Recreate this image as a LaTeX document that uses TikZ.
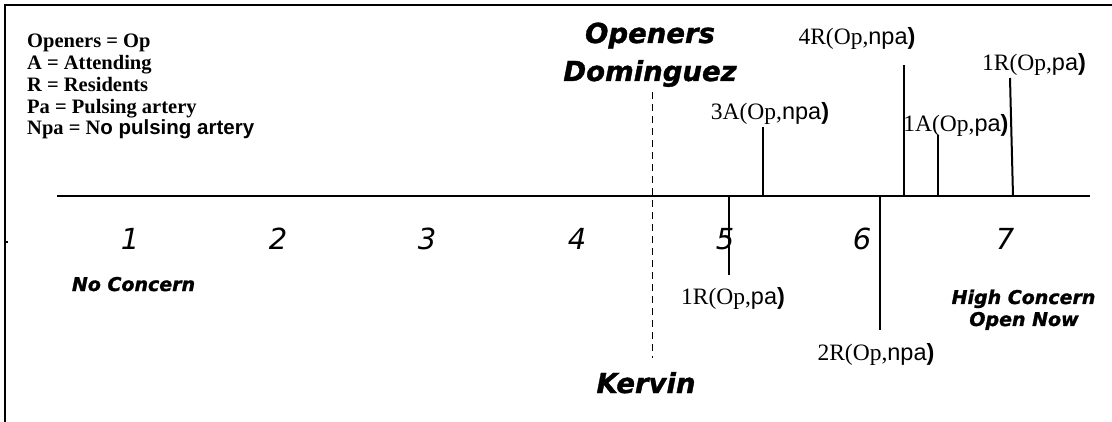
\documentclass[tikz,border=0pt]{standalone}
\usepackage{fontspec}
\setmainfont{Liberation Serif}
\newfontfamily\arialf{Liberation Sans}
\newfontfamily\dvf{DejaVu Sans}[BoldItalicFeatures={FakeBold=1.2}]
\newcommand\tlab[2]{#1(Op,{\arialf #2}{\arialf\bfseries )}}
\begin{document}
\begin{tikzpicture}[x=1pt,y=-1pt,
  tl/.style={font=\fontsize{23.5}{26}\selectfont, inner sep=0pt, anchor=base},
  num/.style={font=\dvf\itshape\fontsize{29}{32}\selectfont, inner sep=0pt, anchor=base},
  big/.style={font=\dvf\bfseries\itshape\fontsize{27.5}{30}\selectfont, inner sep=0pt, anchor=base},
  mid/.style={font=\dvf\bfseries\itshape\fontsize{19}{22}\selectfont, inner sep=0pt, anchor=base},
  leg/.style={font=\bfseries\fontsize{20.5}{22}\selectfont, inner sep=0pt, anchor=base west},
  tick/.style={line width=2pt},
  dashline/.style={line width=1.8pt, dash pattern=on 7pt off 5pt}]
\useasboundingbox (0,0) rectangle (1112,422);
\fill[white] (0,0) rectangle (1112,422);
% frame
\draw[line width=2pt] (5,422) -- (5,5) -- (1112,5);
\draw[line width=1.5pt] (5,242) -- (8,242);
% legend
\node[leg] (l1) at (27,48) {Openers = Op};
\node[leg] (l2) at (27,69.75) {A = Attending};
\node[leg] (l3) at (27,91.5) {R = Residents};
\node[leg] (l4) at (27,113.25) {Pa = Pulsing artery};
\node[leg] (l5) at (27,135) {Npa = N{\arialf\fontsize{20.5}{22}\selectfont o pulsing artery}};
% axis
\coordinate (axL) at (57,196);
\coordinate (axR) at (1090,196);
\draw[tick] (axL) -- (axR);
% numbers
\node[num] (n1) at (130,250) {1};
\node[num] (n2) at (278,250) {2};
\node[num] (n3) at (427,250) {3};
\node[num] (n4) at (577,250) {4};
\node[num] (n5) at (725,250) {5};
\node[num] (n6) at (862,250) {6};
\node[num] (n7) at (1005,250) {7};
% end labels
\node[mid] (nc) at (133.5,291) {No Concern};
\node[mid] (hc) at (1023.5,304) {High Concern};
\node[mid] (on) at (1024,326) {Open Now};
% openers / kervin
\node[big] (op) at (650,43) {Openers};
\node[big] (dom) at (650,81) {Dominguez};
\node[big] (ker) at (646,393) {Kervin};
\coordinate (dT) at (652.5,92);
\coordinate (dB) at (652.5,358);
\draw[dashline] (dT) -- (dB);
% tick labels
\node[tl] (t3a) at (770,120) {\tlab{3A}{npa}};
\node[tl] (t4r) at (857,45) {\tlab{4R}{npa}};
\node[tl] (t1a) at (956,132) {\tlab{1A}{pa}};
\node[tl] (t1rt) at (1034,71) {\tlab{1R}{pa}};
\node[tl] (t1rb) at (733,305) {\tlab{1R}{pa}};
\node[tl] (t2r) at (876,360) {\tlab{2R}{npa}};
% tick lines
\coordinate (a3a) at (763,196); \coordinate (e3a) at (763,127);
\coordinate (a4r) at (904,196); \coordinate (e4r) at (904,65);
\coordinate (a1a) at (938,196); \coordinate (e1a) at (938,135);
\coordinate (a1rt) at (1013,196); \coordinate (e1rt) at (1010,78);
\coordinate (a1rb) at (729,196); \coordinate (e1rb) at (729,275);
\coordinate (a2r) at (880,196); \coordinate (e2r) at (880,330);
\draw[tick] (a3a) -- (e3a);
\draw[tick] (a4r) -- (e4r);
\draw[tick] (a1a) -- (e1a);
\draw[tick] (a1rt) -- (e1rt);
\draw[tick] (a1rb) -- (e1rb);
\draw[tick] (a2r) -- (e2r);
\end{tikzpicture}
\end{document}
